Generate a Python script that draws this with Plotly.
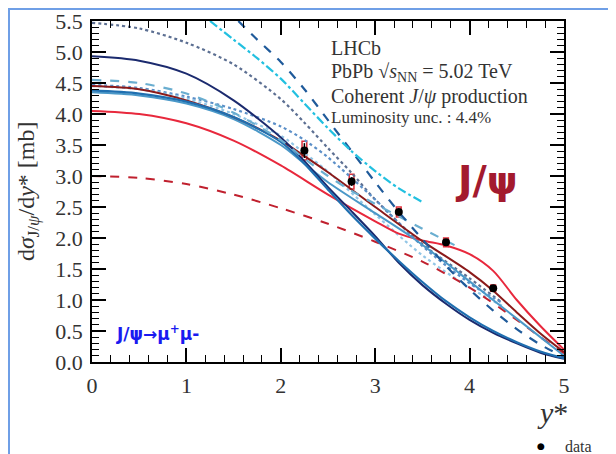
import plotly.graph_objects as go

# ---- data ----
data_x = [2.25, 2.75, 3.25, 3.75, 4.25]
data_y = [3.41, 2.91, 2.42, 1.93, 1.19]
data_stat = [0.12, 0.07, 0.05, 0.04, 0.04]
data_sys = [0.15, 0.12, 0.08, 0.07, 0.05]

navy_x = [0, 0.5, 1.0, 1.5, 2.0, 2.25, 2.5, 2.75, 3.0, 3.25, 3.5, 3.75, 4.0, 4.25, 4.5, 4.75, 5.0]
navy_y = [4.93, 4.86, 4.65, 4.22, 3.62, 3.24, 2.82, 2.43, 2.03, 1.6, 1.24, 0.94, 0.68, 0.47, 0.3, 0.15, 0.05]

blue_x = [0, 0.5, 1.0, 1.5, 2.0, 2.25, 2.5, 2.75, 3.0, 3.25, 3.5, 3.75, 4.0, 4.25, 4.5, 4.75, 5.0]
blue_y = [4.38, 4.33, 4.2, 3.95, 3.55, 3.2, 2.78, 2.37, 1.99, 1.63, 1.29, 0.98, 0.72, 0.5, 0.32, 0.17, 0.06]

lblue_x = [0, 0.5, 1.0, 1.5, 2.0, 2.25, 2.5, 3.0, 3.4, 3.75, 4.0, 4.5, 5.0]
lblue_y = [4.35, 4.3, 4.17, 3.92, 3.5, 3.2, 2.9, 2.4, 2.0, 1.6, 1.3, 0.7, 0.1]

maroon_x = [0, 0.5, 1.0, 1.5, 2.0, 2.25, 2.5, 3.0, 3.5, 4.0, 4.25, 4.5, 4.75, 5.0]
maroon_y = [4.45, 4.4, 4.22, 3.95, 3.57, 3.32, 3.06, 2.5, 1.95, 1.45, 1.15, 0.8, 0.46, 0.16]

red_x = [0, 0.5, 1.0, 1.5, 2.0, 2.5, 3.0, 3.25, 3.5, 3.75, 4.0, 4.25, 4.5, 4.75, 5.0]
red_y = [4.05, 4.0, 3.85, 3.57, 3.17, 2.7, 2.27, 2.07, 1.96, 1.88, 1.74, 1.47, 1.0, 0.58, 0.2]

reddash_x = [0, 0.5, 1.0, 1.5, 2.0, 2.5, 3.0, 3.5, 4.0, 4.5, 4.75, 5.0]
reddash_y = [3.0, 2.97, 2.87, 2.7, 2.48, 2.23, 1.94, 1.62, 1.2, 0.68, 0.4, 0.14]

ldash_x = [0, 0.5, 1.0, 1.5, 2.0, 2.25, 2.5, 2.75, 3.0, 3.25, 3.5, 3.86]
ldash_y = [4.55, 4.5, 4.33, 4.02, 3.58, 3.28, 3.0, 2.76, 2.55, 2.35, 2.15, 1.87]

ddash_x = [1.55, 1.75, 2.0, 2.25, 2.5, 2.75, 3.0, 3.25, 3.5, 3.75, 4.0, 4.25, 4.5, 4.75, 5.0]
ddash_y = [5.5, 5.2, 4.84, 4.4, 3.9, 3.4, 2.9, 2.42, 1.98, 1.55, 1.17, 0.83, 0.53, 0.28, 0.08]

cyan_x = [1.25, 1.5, 1.75, 2.0, 2.25, 2.5, 2.75, 3.0, 3.25, 3.5]
cyan_y = [5.5, 5.2, 4.9, 4.57, 4.17, 3.77, 3.4, 3.08, 2.8, 2.58]

ddot_x = [0, 0.5, 1.0, 1.5, 2.0, 2.25, 2.5, 2.75, 3.0, 3.5, 4.0, 4.35]
ddot_y = [5.47, 5.38, 5.15, 4.8, 4.24, 3.86, 3.45, 3.05, 2.62, 1.9, 1.35, 0.95]

mdot_x = [0, 0.5, 1.0, 1.5, 2.0, 2.25, 2.5, 3.0, 3.5, 4.0, 4.35]
mdot_y = [4.47, 4.42, 4.28, 4.08, 3.8, 3.58, 3.3, 2.62, 1.87, 1.27, 0.95]

ltdot_x = [0, 0.5, 1.0, 1.5, 2.0, 2.25, 2.5, 3.0, 3.5, 4.0, 4.35]
ltdot_y = [4.45, 4.4, 4.25, 4.0, 3.65, 3.37, 3.07, 2.38, 1.72, 1.2, 0.9]

x_ticks = [0, 1, 2, 3, 4, 5]
y_ticks = [0.0, 0.5, 1.0, 1.5, 2.0, 2.5, 3.0, 3.5, 4.0, 4.5, 5.0, 5.5]

curves = [
    (ddot_x, ddot_y, "#5c6f92", "dot", 2.2),
    (mdot_x, mdot_y, "#5b8fc8", "dot", 2.2),
    (ltdot_x, ltdot_y, "#92c6e6", "dot", 2.2),
    (reddash_x, reddash_y, "#c0202e", "dash", 2.0),
    (red_x, red_y, "#e8283c", "solid", 2.0),
    (lblue_x, lblue_y, "#4a98c8", "solid", 2.0),
    (maroon_x, maroon_y, "#8b1a1a", "solid", 2.0),
    (navy_x, navy_y, "#1b2a6e", "solid", 2.0),
    (blue_x, blue_y, "#1f6fb0", "solid", 2.2),
    (ldash_x, ldash_y, "#6aaed0", "dash", 2.2),
    (ddash_x, ddash_y, "#1f5a9a", "dash", 2.2),
    (cyan_x, cyan_y, "#22c0e0", "dashdot", 2.2),
]

fig = go.Figure()
for cx, cy, col, dash, w in curves:
    fig.add_trace(go.Scatter(x=cx, y=cy, mode="lines",
                             line=dict(color=col, dash=dash, width=w, shape="spline", smoothing=0.8),
                             showlegend=False, hoverinfo="skip"))

# systematic boxes
fig.add_trace(go.Bar(x=data_x, y=[2 * s for s in data_sys], base=[y - s for y, s in zip(data_y, data_sys)],
                     width=0.05, marker=dict(color="rgba(0,0,0,0)", line=dict(color="#e0303c", width=1.5)),
                     showlegend=False, hoverinfo="skip"))

fig.add_trace(go.Scatter(x=data_x, y=data_y, mode="markers", name="data",
                         marker=dict(color="black", size=8),
                         error_y=dict(type="data", array=data_stat, color="black", thickness=1.5, width=0),
                         showlegend=False))

serif = "Liberation Serif"
axis_common = dict(ticks="inside", ticklen=14, tickwidth=1.5, tickcolor="black",
                   showline=True, linecolor="black", linewidth=1.5, mirror="allticks", showgrid=False,
                   zeroline=False, automargin=False, ticklabelstandoff=3,
                   tickfont=dict(family=serif, size=22, color="#333"))
# the page adds an 8 px body margin, so the plot area (page px 92..564 x 21..362) is offset here
fig.update_layout(
    width=616, height=454,
    margin=dict(l=84, r=60, t=13, b=100),
    paper_bgcolor="white", plot_bgcolor="white",
    showlegend=False,
    xaxis=dict(range=[0, 5], tickvals=x_ticks,
               minor=dict(dtick=0.2, ticks="inside", ticklen=7, tickcolor="black", tickwidth=1.2), **axis_common),
    yaxis=dict(range=[0, 5.5], tickvals=y_ticks, ticktext=[f"{v:.1f}" for v in y_ticks],
               minor=dict(dtick=0.1, ticks="inside", ticklen=7, tickcolor="black", tickwidth=1.2), **axis_common),
)

ann = [
    dict(x=2.51, y=5.06, text="LHCb", size=20),
    dict(x=2.51, y=4.67, text="PbPb √<i>s</i><sub>NN</sub> = 5.02 TeV", size=20),
    dict(x=2.51, y=4.29, text="Coherent <i>J</i>/<i>ψ</i> production", size=20),
    dict(x=2.51, y=3.95, text="Luminosity unc. : 4.4%", size=17),
]
for a in ann:
    fig.add_annotation(x=a["x"], y=a["y"], text=a["text"], showarrow=False, xanchor="left", yanchor="middle",
                       font=dict(family=serif, size=a["size"], color="#333"))

fig.add_annotation(x=4.18, y=2.93, text="<b>J/ψ</b>", showarrow=False, xanchor="center", yanchor="middle",
                   font=dict(family="DejaVu Sans", size=39, color="#a31a2e"))
fig.add_annotation(x=0.23, y=0.46, text="<b>J/ψ→μ<sup>+</sup>μ-</b>", showarrow=False, xanchor="left",
                   yanchor="middle", font=dict(family="DejaVu Sans", size=17, color="#1a1af0"))
fig.add_annotation(xref="paper", yref="paper", x=(552 - 92) / 472, y=(362 - 412) / 341,
                   text="<i>y</i>*", showarrow=False, xanchor="center", yanchor="middle",
                   font=dict(family=serif, size=30, color="#333"))
fig.add_annotation(xref="paper", yref="paper", x=(28 - 92) / 472, y=(362 - 192) / 341, textangle=-90,
                   text="d<i>σ</i><sub>J/<i>ψ</i></sub>/d<i>y</i>* [mb]", showarrow=False,
                   xanchor="center", yanchor="middle", font=dict(family=serif, size=24, color="#333"))
# legend entry drawn as text
fig.add_annotation(xref="paper", yref="paper", x=(541 - 92) / 472, y=(362 - 446) / 341,
                   text="●", showarrow=False, xanchor="center", yanchor="middle",
                   font=dict(family="DejaVu Sans", size=9, color="black"))
fig.add_annotation(xref="paper", yref="paper", x=(563 - 92) / 472, y=(362 - 446) / 341,
                   text="data", showarrow=False, xanchor="left", yanchor="middle",
                   font=dict(family=serif, size=16, color="#333"))

# blue frame around the picture
fig.add_shape(type="rect", xref="paper", yref="paper", x0=(9 - 92) / 472, x1=(612 - 92) / 472,
              y0=(362 - 470) / 341, y1=(362 - 9) / 341, line=dict(color="#6f9fe6", width=2), layer="below")

fig.write_html("out.html")
